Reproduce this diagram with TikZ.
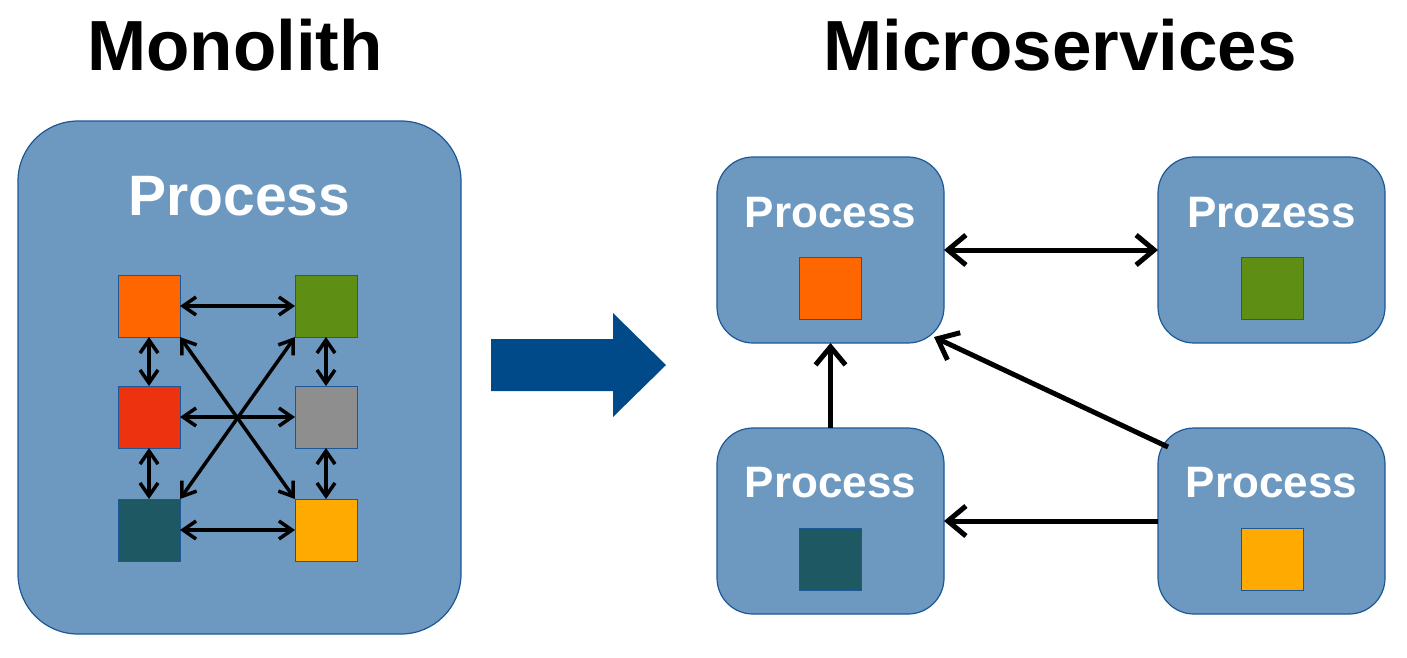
\documentclass[tikz,border=0pt]{standalone}
\usepackage{fontspec}
\setmainfont{Liberation Sans}
\usetikzlibrary{arrows.meta,positioning}

\definecolor{boxblue}{RGB}{109,152,191}
\definecolor{boxline}{RGB}{28,88,152}
\definecolor{bigarrow}{RGB}{0,74,138}
\definecolor{cOrange}{RGB}{255,102,0}
\definecolor{cGreen}{RGB}{94,142,20}
\definecolor{cRed}{RGB}{236,50,14}
\definecolor{cGrey}{RGB}{142,142,142}
\definecolor{cTeal}{RGB}{30,88,98}
\definecolor{cYellow}{RGB}{255,170,0}

\begin{document}
\begin{tikzpicture}[x=1pt, y=-1pt, node distance=0pt, every node/.style={outer sep=0pt},
    procbox/.style={draw=boxline, line width=1.2pt, fill=boxblue, inner sep=0pt},
    sq/.style={draw=boxline, line width=1pt, minimum size=62pt, inner sep=0pt},
    title/.style={font=\bfseries\fontsize{71}{80}\selectfont, inner sep=0pt},
    bigtext/.style={font=\bfseries\fontsize{57}{62}\selectfont, text=white, inner sep=0pt},
    mstext/.style={font=\bfseries\fontsize{44}{50}\selectfont, text=white, inner sep=0pt},
    marrow/.style={line width=3.5pt, {Straight Barb[length=13pt,width=18pt]}-{Straight Barb[length=13pt,width=18pt]}},
    sarrow/.style={line width=5pt, -{Straight Barb[length=18pt,width=30pt]}},
    sdarrow/.style={line width=5pt, {Straight Barb[length=18pt,width=30pt]}-{Straight Barb[length=18pt,width=30pt]}}]
    \useasboundingbox (0,0) rectangle (1407,657);

    \node (montitle) [title, anchor=base] at (235,70) {Monolith};
    \node (mictitle) [title, anchor=base] at (1060,70) {Microservices};

    % monolith
    \node (mono) [procbox, rounded corners=60pt, minimum width=443pt, minimum height=513pt] at (239.5,377.5) {};
    \node (monotext) [bigtext, anchor=base] at (239.5,215) {Process};
    \node (sqO) [sq, fill=cOrange] at (149,306) {};
    \node (sqG) [sq, fill=cGreen, right=115pt of sqO] {};
    \node (sqR) [sq, fill=cRed, below=49pt of sqO] {};
    \node (sqE) [sq, fill=cGrey, right=115pt of sqR] {};
    \node (sqT) [sq, fill=cTeal, below=51pt of sqR] {};
    \node (sqY) [sq, fill=cYellow, right=115pt of sqT] {};
    \draw [marrow] (sqO) -- (sqG);
    \draw [marrow] (sqR) -- (sqE);
    \draw [marrow] (sqT) -- (sqY);
    \draw [marrow] (sqO) -- (sqR);
    \draw [marrow] (sqR) -- (sqT);
    \draw [marrow] (sqG) -- (sqE);
    \draw [marrow] (sqE) -- (sqY);
    \draw [marrow] (sqO.south east) -- (sqY.north west);
    \draw [marrow] (sqT.north east) -- (sqG.south west);

    % big arrow
    \fill [bigarrow] (491,339) -- (613,339) -- (613,313) -- (666,365) -- (613,417) -- (613,391) -- (491,391) -- cycle;

    % microservices
    \foreach \n/\x/\y in {msA/830.5/250, msB/1271.5/250, msC/830.5/521, msD/1271.5/521}
        \node (\n) [procbox, rounded corners=36pt, minimum width=227pt, minimum height=186pt] at (\x,\y) {};
    \node (msAt) [mstext, anchor=base] at (830.5,227) {Process};
    \node (msBt) [mstext, anchor=base] at (1271.5,227) {Prozess};
    \node (msCt) [mstext, anchor=base] at (830.5,497) {Process};
    \node (msDt) [mstext, anchor=base] at (1271.5,497) {Process};
    \node (sqA) [sq, fill=cOrange] at (830,288) {};
    \node (sqB) [sq, fill=cGreen] at (1272,288) {};
    \node (sqC) [sq, fill=cTeal] at (830,559) {};
    \node (sqD) [sq, fill=cYellow] at (1272,559) {};
    \draw [sdarrow] (msA.east) -- (msB.west);
    \draw [sarrow] (msC.north) -- (msA.south);
    \draw [sarrow] ([shift={(10,19)}]msD.north west) -- ([shift={(-10,-6)}]msA.south east);
    \draw [sarrow] (msD.west) -- (msC.east);
\end{tikzpicture}
\end{document}
